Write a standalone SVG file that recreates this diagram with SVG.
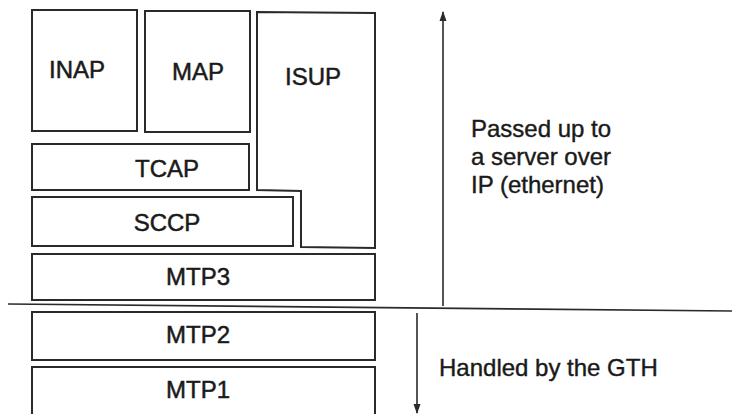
<svg xmlns="http://www.w3.org/2000/svg" width="732" height="414" viewBox="0 0 732 414">
  <style>
    .box { fill: none; stroke: #2a2a2a; stroke-width: 2; }
    .lbl { font-family: "Liberation Sans", Arial, sans-serif; font-size: 24px; fill: #1a1a1a; stroke: #1a1a1a; stroke-width: 0.5; text-anchor: middle; }
    .note { font-family: "Liberation Sans", Arial, sans-serif; font-size: 24px; fill: #1a1a1a; stroke: #1a1a1a; stroke-width: 0.4; }
    .conn { stroke: #2a2a2a; stroke-width: 1.6; fill: none; }
  </style>
  <defs>
    <marker id="head" viewBox="0 0 10 10" refX="9" refY="5" markerWidth="10" markerHeight="10" markerUnits="userSpaceOnUse" orient="auto">
      <path d="M0,1.5 L10,5 L0,8.5 Z" fill="#2a2a2a"/>
    </marker>
  </defs>
  <rect width="732" height="414" fill="#ffffff"/>

  <g id="inap">
    <rect class="box" x="32" y="10" width="105" height="121"/>
    <text class="lbl" x="77" y="78">INAP</text>
  </g>
  <g id="map">
    <rect class="box" x="145" y="11" width="105" height="121"/>
    <text class="lbl" x="198" y="80">MAP</text>
  </g>
  <g id="isup">
    <path class="box" d="M257,12 L375,13 L375,248 L301,247 L301,191 L257,190 Z"/>
    <text class="lbl" x="313" y="85">ISUP</text>
  </g>
  <g id="tcap">
    <rect class="box" x="32" y="144" width="217" height="46"/>
    <text class="lbl" x="167" y="177">TCAP</text>
  </g>
  <g id="sccp">
    <rect class="box" x="32" y="197" width="261" height="49"/>
    <text class="lbl" x="167" y="231">SCCP</text>
  </g>
  <g id="mtp3">
    <rect class="box" x="32" y="254" width="343" height="46"/>
    <text class="lbl" x="198" y="285">MTP3</text>
  </g>
  <g id="mtp2">
    <rect class="box" x="32" y="312" width="343" height="48"/>
    <text class="lbl" x="198" y="343">MTP2</text>
  </g>
  <g id="mtp1">
    <rect class="box" x="32" y="367" width="343" height="60"/>
    <text class="lbl" x="198" y="398">MTP1</text>
  </g>

  <g id="connectors">
    <line class="conn" x1="8" y1="304" x2="732" y2="311"/>
    <line class="conn" x1="443" y1="306" x2="443" y2="12" marker-end="url(#head)"/>
    <line class="conn" x1="417" y1="313" x2="417" y2="413" marker-end="url(#head)"/>
  </g>

  <g id="notes">
    <text class="note" x="471" y="137">Passed up to</text>
    <text class="note" x="471" y="165">a server over</text>
    <text class="note" x="471" y="193">IP (ethernet)</text>
    <text class="note" x="439" y="376">Handled by the GTH</text>
  </g>
</svg>
